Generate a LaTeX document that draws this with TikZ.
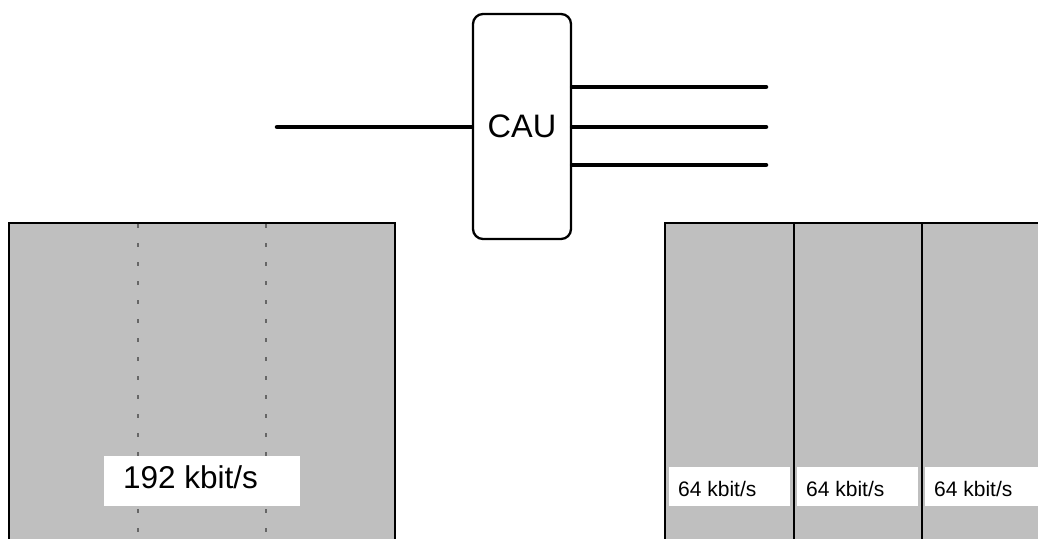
\documentclass[tikz,border=0pt]{standalone}
\usepackage{fontspec}
\setmainfont{Liberation Sans}
\begin{document}
\begin{tikzpicture}[x=1pt,y=-1pt,
  wire/.style={line width=4.5pt,line cap=round},
  slot/.style={draw=black,line width=2pt,fill=black!25},
  tag/.style={fill=white,draw=none,inner sep=0pt},
  sep/.style={draw=black!60,line width=1.3pt,dash pattern=on 3.5pt off 15.5pt}]
\clip (0,0) rectangle (1038,538);
\fill[white] (0,0) rectangle (1038,538);
% CAU
\node[draw,line width=2.3pt,rounded corners=10pt,minimum width=98pt,minimum height=225pt,inner sep=0pt,font=\fontsize{32.5}{36}\selectfont] (cau) at (522,126.5) {\raisebox{-4pt}{CAU}};
\coordinate (in) at (277,127);
\coordinate (o1) at (766,87);
\coordinate (o2) at (766,127);
\coordinate (o3) at (766,165);
\draw[wire] (in) -- (cau.west |- in);
\draw[wire] (cau.east |- o1) -- (o1);
\draw[wire] (cau.east |- o2) -- (o2);
\draw[wire] (cau.east |- o3) -- (o3);
% left 192 kbit/s channel
\path[slot] (9,223) rectangle (395,545);
\draw[sep] (138,224) -- (138,545);
\draw[sep] (266,224) -- (266,545);
\fill[white] (104,456) rectangle (300,506);
\node[tag,anchor=base west,font=\fontsize{31.5}{36}\selectfont] (l192) at (123,488) {192 kbit/s};
% right 64 kbit/s channels
\path[slot] (665,223) rectangle (794,545);
\path[slot] (794,223) rectangle (922,545);
\path[slot] (922,223) rectangle (1050,545);
\fill[white] (669,467) rectangle (790,506);
\fill[white] (797,467) rectangle (918,506);
\fill[white] (925,467) rectangle (1040,506);
\node[tag,anchor=base west,font=\fontsize{21}{24}\selectfont] (c1) at (678,496) {64 kbit/s};
\node[tag,anchor=base west,font=\fontsize{21}{24}\selectfont] (c2) at (806,496) {64 kbit/s};
\node[tag,anchor=base west,font=\fontsize{21}{24}\selectfont] (c3) at (934,496) {64 kbit/s};
\end{tikzpicture}
\end{document}
